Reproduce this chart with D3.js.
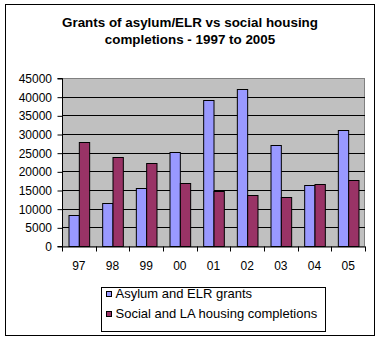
<!DOCTYPE html>
<html>
<head>
<meta charset="utf-8">
<script src="https://cdn.jsdelivr.net/npm/d3@7"></script>
<style>
  html, body { margin: 0; padding: 0; background: #fff; }
  svg { display: block; }
  text { font-family: Arial, "Liberation Sans", sans-serif; fill: #000; }
</style>
</head>
<body>
<div id="chart"></div>
<script>
  var years = ['97', '98', '99', '00', '01', '02', '03', '04', '05'];
  var asylumGrants = [8200, 11400, 15500, 25100, 39000, 42000, 27000, 16300, 31000];
  var housingCompletions = [27800, 23800, 22100, 16800, 14600, 13600, 13000, 16500, 17600];
  var yTicks = [0, 5000, 10000, 15000, 20000, 25000, 30000, 35000, 40000, 45000];
  var seriesNames = ['Asylum and ELR grants', 'Social and LA housing completions'];
  var seriesColors = ['#9999ff', '#993366'];
  var titleLines = ['Grants of asylum/ELR vs social housing',
                    'completions - 1997 to 2005'];

  var width = 382, height = 344;
  var plot = {left: 62, right: 365, top: 78, bottom: 246};
  var font = 'Arial, "Liberation Sans", sans-serif';

  var svg = d3.select('#chart').append('svg')
    .attr('width', width)
    .attr('height', height);

  svg.append('rect')
    .attr('x', 5.5).attr('y', 4.5)
    .attr('width', 369).attr('height', 331)
    .style('fill', '#fff')
    .style('stroke', '#000')
    .style('stroke-width', 1);

  svg.selectAll('text.title')
    .data(titleLines)
    .enter().append('text')
    .attr('class', 'title')
    .attr('x', 190)
    .attr('y', function(d, i) { return 27.3 + i * 16.2; })
    .attr('text-anchor', 'middle')
    .style('font-size', '13.4px')
    .style('font-weight', 'bold')
    .text(function(d) { return d; });

  var x = d3.scaleBand()
    .domain(years)
    .range([plot.left, plot.right])
    .padding(0);

  var xs = d3.scaleBand()
    .domain([0, 1])
    .range([0, x.bandwidth()])
    .paddingInner(0)
    .paddingOuter(0.63);

  var y = d3.scaleLinear()
    .domain([0, 45000])
    .range([plot.bottom, plot.top]);

  // plot area
  svg.append('rect')
    .attr('x', plot.left + 0.5).attr('y', plot.top + 0.5)
    .attr('width', plot.right - plot.left - 1)
    .attr('height', plot.bottom - plot.top)
    .style('fill', '#c0c0c0')
    .style('stroke', '#808080')
    .style('stroke-width', 1);

  // gridlines
  svg.append('g')
    .selectAll('line')
    .data(yTicks.slice(1, -1))
    .enter().append('line')
    .attr('x1', plot.left)
    .attr('x2', plot.right)
    .attr('y1', function(d) { return Math.round(y(d)) + 0.5; })
    .attr('y2', function(d) { return Math.round(y(d)) + 0.5; })
    .style('stroke', '#000')
    .style('stroke-width', 1);

  // bars
  var rows = years.map(function(yr, i) {
    return [asylumGrants[i], housingCompletions[i]];
  });

  var groups = svg.append('g')
    .selectAll('g')
    .data(rows)
    .enter().append('g')
    .attr('transform', function(d, i) {
      return 'translate(' + x(years[i]) + ',0)';
    });

  groups.selectAll('rect')
    .data(function(d) { return d; })
    .enter().append('rect')
    .attr('x', function(d, j) { return xs(j) + 0.5; })
    .attr('y', function(d) { return Math.round(y(d)) + 0.5; })
    .attr('width', xs.bandwidth())
    .attr('height', function(d) { return plot.bottom - Math.round(y(d)); })
    .style('fill', function(d, j) { return seriesColors[j]; })
    .style('stroke', '#000')
    .style('stroke-width', 1);

  // axes
  var yAxis = d3.axisLeft(y)
    .tickValues(yTicks)
    .tickSize(5)
    .tickPadding(5.5)
    .tickFormat(d3.format('d'));

  var yg = svg.append('g')
    .attr('transform', 'translate(' + (plot.left + 0.5) + ',0.5)')
    .call(yAxis);

  var xAxis = d3.axisBottom(x)
    .tickSize(0)
    .tickPadding(15);

  var xg = svg.append('g')
    .attr('transform', 'translate(0,' + (plot.bottom + 0.5) + ')')
    .call(xAxis);

  // category boundary ticks
  xg.selectAll('line.sep')
    .data(years.concat(['end']))
    .enter().append('line')
    .attr('class', 'sep')
    .attr('x1', function(d, i) { return Math.round(plot.left + i * x.step()) + 0.5; })
    .attr('x2', function(d, i) { return Math.round(plot.left + i * x.step()) + 0.5; })
    .attr('y1', 0)
    .attr('y2', 5)
    .style('stroke', '#000');

  [yg, xg].forEach(function(g) {
    g.selectAll('.domain').style('stroke', '#000').style('stroke-width', 1);
    g.selectAll('.tick line').style('stroke', '#000');
    g.selectAll('.tick text')
      .style('font-family', font)
      .style('font-size', '12px')
      .style('fill', '#000');
  });
  yg.select('.domain').attr('d', 'M-5,' + y(45000) + 'H0V' + y(0) + 'H-5');

  // legend
  var legend = svg.append('g')
    .attr('transform', 'translate(101.5,287.5)');

  legend.append('rect')
    .attr('width', 224)
    .attr('height', 44)
    .style('fill', '#fff')
    .style('stroke', '#000');

  var items = legend.selectAll('g.item')
    .data(seriesNames)
    .enter().append('g')
    .attr('class', 'item')
    .attr('transform', function(d, i) { return 'translate(5,' + (4 + i * 20) + ')'; });

  items.append('rect')
    .attr('width', 5)
    .attr('height', 5)
    .style('fill', function(d, i) { return seriesColors[i]; })
    .style('stroke', '#000');

  items.append('text')
    .attr('x', 9)
    .attr('y', 6)
    .style('font-size', '13px')
    .text(function(d) { return d; });
</script>
</body>
</html>
